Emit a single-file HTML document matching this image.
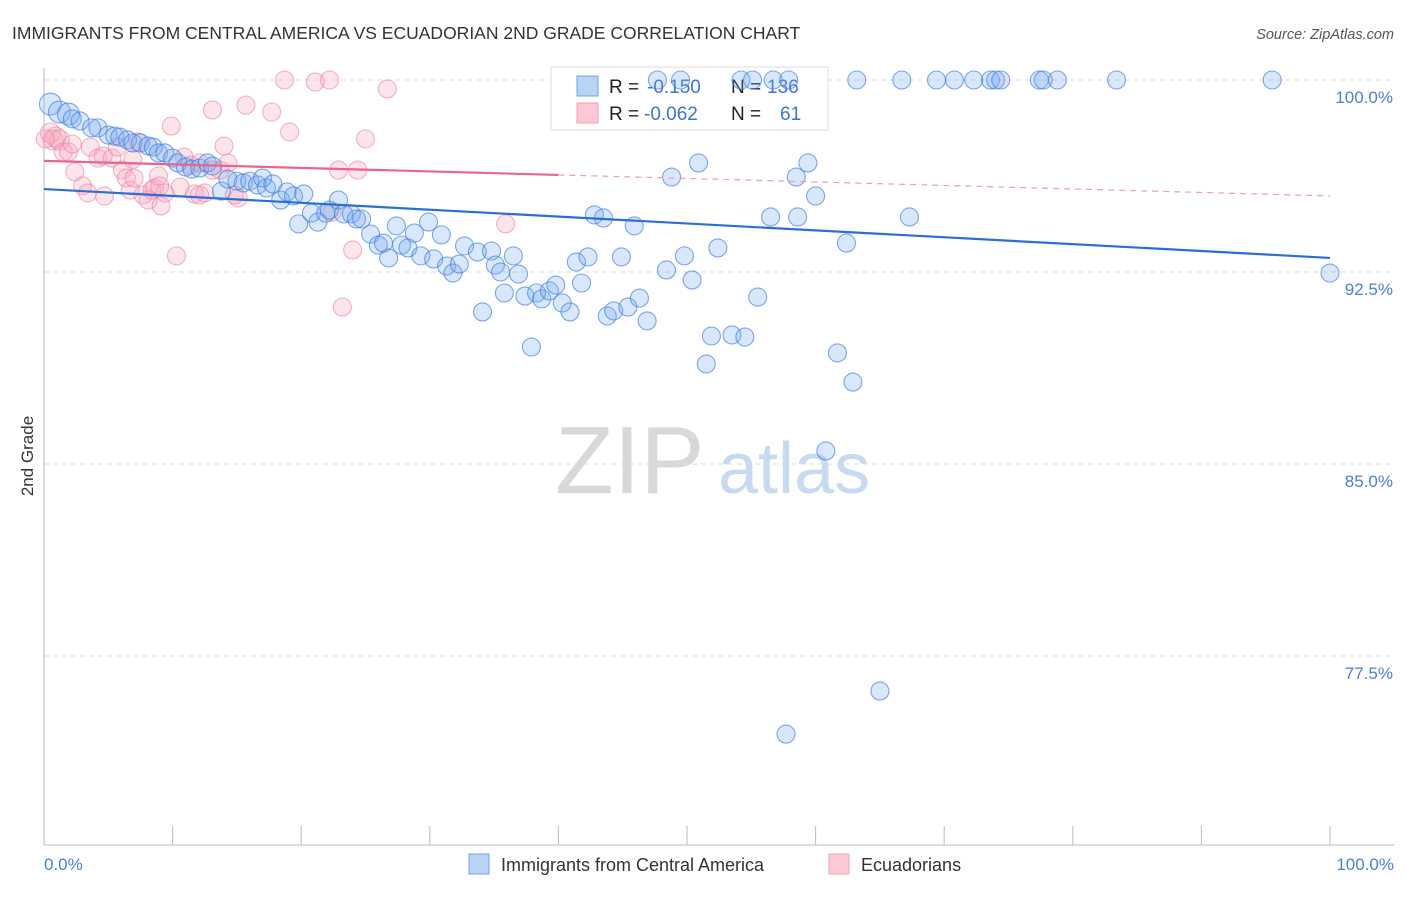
<!DOCTYPE html>
<html><head><meta charset="utf-8"><style>
body{margin:0;background:#fff;font-family:"Liberation Sans",sans-serif;}
svg text{font-family:"Liberation Sans",sans-serif;}
</style></head><body>
<svg id="chart" width="1406" height="892" viewBox="0 0 1406 892" xmlns="http://www.w3.org/2000/svg">
<text x="12" y="39" font-size="17.5" fill="#333">IMMIGRANTS FROM CENTRAL AMERICA VS ECUADORIAN 2ND GRADE CORRELATION CHART</text>
<text x="1394" y="39" font-size="14.5" fill="#555" text-anchor="end" font-style="italic">Source: ZipAtlas.com</text>
<g>
<text x="555" y="493" font-size="96" fill="#d8d8d8" font-family="Liberation Serif,serif">ZIP</text>
<text x="718" y="493" font-size="72" fill="#c8daf0">atlas</text>
</g>
<g id="grid"></g>
<g id="axes"></g>
<g>
<rect x="551" y="67" width="277" height="63" fill="#fff" stroke="#ddd"/>
<rect x="577" y="76" width="21" height="20" fill="#b9d3f5" stroke="#6fa3e6"/>
<rect x="577" y="103" width="21" height="20" fill="#fbc9d6" stroke="#f0a0b8"/>
<text x="609" y="93" font-size="19" fill="#222">R = </text><text x="647" y="93" font-size="19" fill="#3b73d1">-0.150</text>
<text x="731" y="93" font-size="19" fill="#222">N = </text><text x="767" y="93" font-size="19" fill="#3b73d1">136</text>
<text x="609" y="120" font-size="19" fill="#222">R = </text><text x="644" y="120" font-size="19" fill="#3b73d1">-0.062</text>
<text x="731" y="120" font-size="19" fill="#222">N = </text><text x="780" y="120" font-size="19" fill="#3b73d1">61</text>
</g>
<g id="pts"></g>
<g id="lines"></g>
<text transform="translate(33,456) rotate(-90)" font-size="17" fill="#333" text-anchor="middle">2nd Grade</text>
<g>
<rect x="469" y="854" width="20" height="20" fill="#b9d3f5" stroke="#6fa3e6"/>
<text x="501" y="871" font-size="18" fill="#333">Immigrants from Central America</text>
<rect x="829" y="854" width="20" height="20" fill="#fbc9d6" stroke="#f0a0b8"/>
<text x="861" y="871" font-size="18" fill="#333">Ecuadorians</text>
</g>
</svg>
<script>
const yTicks=[100,92.5,85,77.5];
const yTickLabels=["100.0%","92.5%","85.0%","77.5%"];
const xTicks=[0,10,20,30,40,50,60,70,80,90,100];
const blueX=[0.5,1.2,1.9,2.2,2.8,3.7,4.2,5.0,5.5,5.9,6.5,6.9,7.5,8.1,8.5,8.9,9.4,10.0,10.4,11.0,11.5,12.1,12.7,13.1,13.8,14.3,15.0,15.5,16.0,16.6,17.0,17.3,17.8,18.4,18.9,19.4,19.8,20.2,20.8,21.3,21.9,22.2,22.9,23.3,23.9,24.3,24.7,25.4,26.0,26.4,26.8,27.4,27.8,28.3,28.8,29.3,29.9,30.3,30.9,31.3,31.8,32.3,32.7,33.7,34.1,34.8,35.1,35.5,35.8,36.5,36.9,37.4,37.9,38.3,38.7,39.3,39.8,40.3,40.9,41.4,41.8,42.3,42.8,43.5,43.8,44.3,44.9,45.4,45.9,46.3,46.9,48.4,48.8,49.8,50.4,50.9,51.5,51.9,52.4,53.5,54.5,55.5,56.5,58.5,58.6,59.4,60.0,60.8,61.7,62.4,62.9,65.0,57.7,67.3,100,
47.7,49.5,54.2,55.1,56.7,57.9,63.2,66.7,69.4,70.8,72.3,73.6,74.0,74.4,77.4,77.7,78.8,83.4,95.5];
const blueY=[99.06,98.75,98.67,98.48,98.40,98.13,98.13,97.85,97.81,97.77,97.66,97.54,97.54,97.42,97.38,97.15,97.15,96.95,96.76,96.60,96.52,96.56,96.76,96.64,95.66,96.13,96.05,95.98,96.05,95.90,96.17,95.78,95.94,95.31,95.63,95.47,94.38,95.55,94.80,94.45,94.80,94.92,95.31,94.77,94.77,94.57,94.57,93.98,93.55,93.63,93.05,94.30,93.55,93.44,94.02,93.13,94.45,93.01,93.95,92.73,92.46,92.81,93.52,93.28,90.94,93.32,92.77,92.50,91.68,93.13,92.42,91.56,89.57,91.68,91.45,91.76,91.99,91.29,90.94,92.89,92.07,93.09,94.73,94.61,90.78,90.98,93.09,91.13,94.30,91.48,90.59,92.58,96.21,93.13,92.19,96.76,88.91,90.0,93.44,90.04,89.96,91.52,94.65,96.21,94.65,96.76,95.47,85.51,89.34,93.63,88.20,76.13,74.45,94.65,92.46,
100,100,100,100,100,100,100,100,100,100,100,100,100,100,100,100,100,100,100];
const pinkX=[0.5,0.7,0.9,1.2,1.5,1.9,2.4,3.0,3.4,3.6,4.2,4.6,4.7,5.3,5.7,6.1,6.4,6.7,7.0,7.3,7.7,8.1,8.4,8.6,8.9,9.1,9.4,9.9,10.3,10.6,10.9,11.4,11.7,12.1,12.5,13.1,13.7,14.0,14.3,14.8,15.1,15.7,17.7,18.7,19.1,21.1,22.2,22.4,22.9,23.2,24.0,24.4,25.0,26.7,35.9,13.1,9.0,0.1,12.1,2.2,6.9];
const pinkY=[97.93,97.66,97.77,97.66,97.19,97.19,96.41,95.86,95.59,97.38,96.95,97.03,95.47,96.95,97.38,96.48,96.17,95.70,96.17,97.58,95.51,95.31,95.70,95.78,96.25,95.08,95.59,98.20,93.13,95.82,96.99,96.68,95.55,96.76,95.59,98.83,96.48,97.42,96.76,95.51,95.39,99.02,98.75,100,97.97,99.92,100,94.84,96.48,91.13,93.36,96.48,97.70,99.65,94.38,96.48,95.86,97.70,95.51,97.50,96.90];
const blueLine=[95.74,93.05];
const pinkLine=[96.84,95.47];
const pinkSolidEnd=40;
const X=v=>44+v*12.86;
const Y=v=>80+(100-v)*25.6;
const NS="http://www.w3.org/2000/svg";
function mk(tag,attrs,parent){const e=document.createElementNS(NS,tag);for(const k in attrs)e.setAttribute(k,attrs[k]);parent.appendChild(e);return e;}
const grid=document.getElementById('grid'),axes=document.getElementById('axes'),pts=document.getElementById('pts'),lines=document.getElementById('lines');
yTicks.forEach((t,i)=>{
  const l=mk('line',{x1:44,x2:1394,y1:Y(t),y2:Y(t),stroke:'#ddd','stroke-dasharray':'5,4'},grid);
  
  
  const tx=mk('text',{x:1393,y:Y(t)+23,'font-size':17,fill:'#4a80d6','text-anchor':'end'},axes);
  tx.textContent=yTickLabels[i];
  
  
});
const ax=mk('line',{x1:44,x2:1394,y1:845,y2:845,stroke:'#bbb'},axes);


const ay=mk('line',{x1:44,x2:44,y1:68,y2:845,stroke:'#bbb'},axes);


xTicks.forEach(t=>{
  const l=mk('line',{x1:X(t),x2:X(t),y1:826,y2:845,stroke:'#bbb'},axes);
  
  
});
const xl0=mk('text',{x:44,y:870,'font-size':17,fill:'#4a80d6'},axes);xl0.textContent='0.0%';


const xl1=mk('text',{x:1394,y:870,'font-size':17,fill:'#4a80d6','text-anchor':'end'},axes);xl1.textContent='100.0%';


pinkX.forEach((x,i)=>{
  const c=mk('circle',{cx:X(x),cy:Y(pinkY[i]),r:i<4?10:9,fill:'rgba(247,170,192,0.32)',stroke:'rgba(236,130,162,0.6)','stroke-width':1.1},pts);
  
  
});
blueX.forEach((x,i)=>{
  const c=mk('circle',{cx:X(x),cy:Y(blueY[i]),r:i<3?11:9,fill:'rgba(120,170,240,0.28)',stroke:'rgba(60,125,220,0.65)','stroke-width':1.1},pts);
  
  
});
const bl=mk('line',{x1:X(0),y1:Y(blueLine[0]),x2:X(100),y2:Y(blueLine[1]),stroke:'#2a6fd8','stroke-width':2.2},lines);


const pAt=v=>pinkLine[0]+(pinkLine[1]-pinkLine[0])*v/100;
const pl=mk('line',{x1:X(0),y1:Y(pAt(0)),x2:X(pinkSolidEnd),y2:Y(pAt(pinkSolidEnd)),stroke:'#e8668e','stroke-width':2.2},lines);


const pd=mk('line',{x1:X(pinkSolidEnd),y1:Y(pAt(pinkSolidEnd)),x2:X(100),y2:Y(pAt(100)),stroke:'#e8a0b6','stroke-width':1.2,'stroke-dasharray':'6,5'},lines);


</script>
</body></html>
